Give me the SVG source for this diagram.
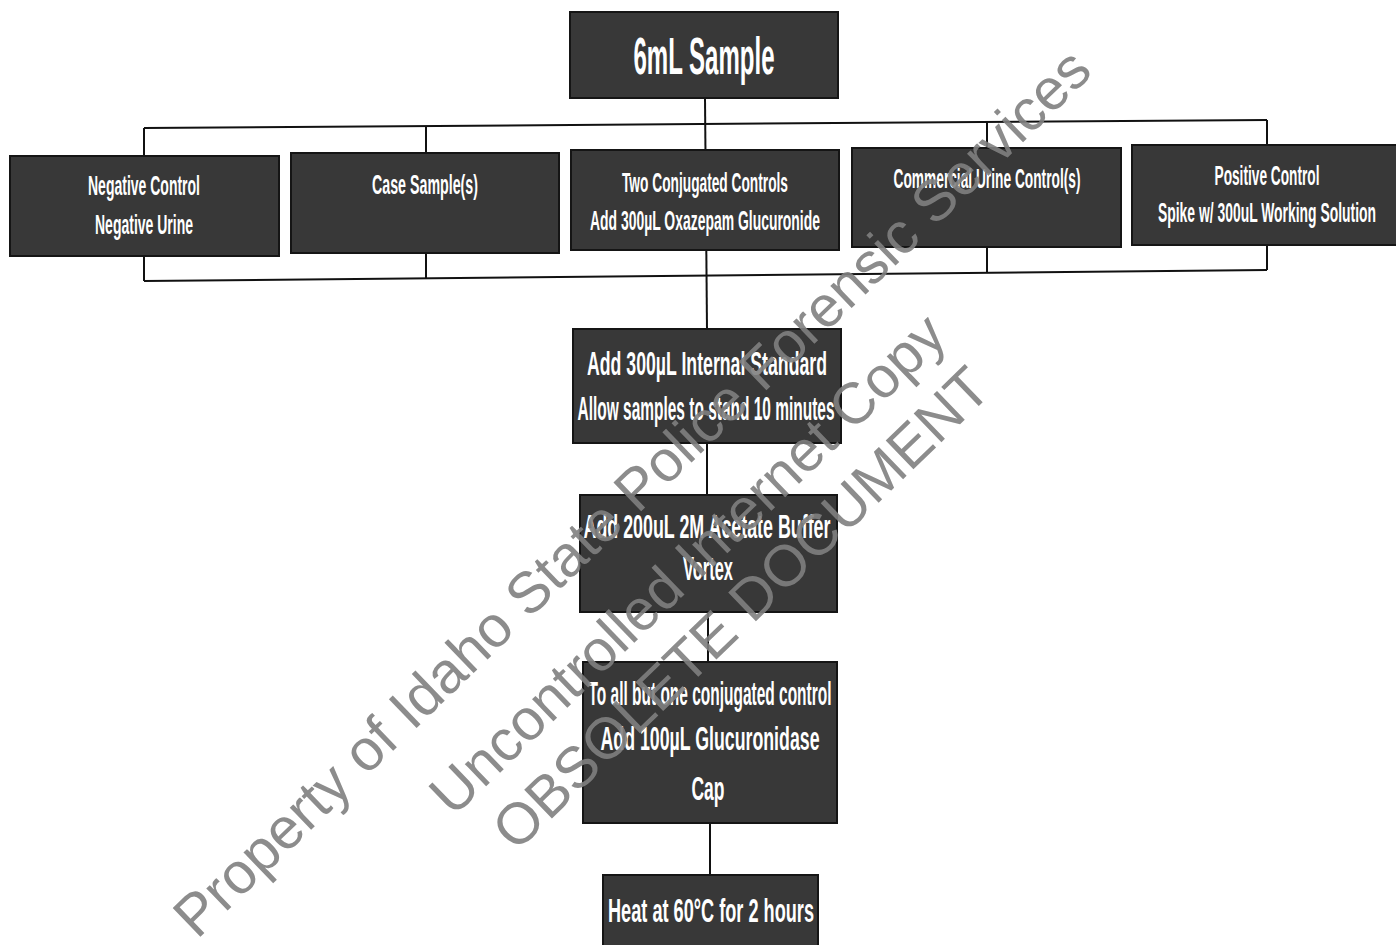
<svg xmlns="http://www.w3.org/2000/svg" width="1396" height="945" viewBox="0 0 1396 945">
<style>
.box{fill:#383838;stroke:#151515;stroke-width:2}
.t{font-family:"Liberation Sans",Arial,sans-serif;font-weight:bold;fill:#ffffff;text-anchor:middle}
.s{font-size:27px}
.m{font-size:33px}
.c{stroke:#111;stroke-width:2;fill:none}
.wm{font-family:"Liberation Sans",Arial,sans-serif;font-size:58px;fill:#808080;opacity:0.9}
</style>
<rect width="1396" height="945" fill="#ffffff"/>
<g id="connectors">
<line class="c" x1="705" y1="98" x2="707" y2="329"/>
<line class="c" x1="144" y1="128" x2="1267" y2="120"/>
<line class="c" x1="144" y1="281" x2="1267" y2="270"/>
<line class="c" x1="144" y1="128" x2="144" y2="155"/>
<line class="c" x1="144" y1="256" x2="144" y2="281"/>
<line class="c" x1="426" y1="126" x2="426" y2="153"/>
<line class="c" x1="426" y1="253" x2="426" y2="279"/>
<line class="c" x1="987" y1="122" x2="987" y2="148"/>
<line class="c" x1="987" y1="247" x2="987" y2="273"/>
<line class="c" x1="1267" y1="120" x2="1267" y2="145"/>
<line class="c" x1="1267" y1="245" x2="1267" y2="270"/>
<line class="c" x1="707" y1="443" x2="707" y2="495"/>
<line class="c" x1="708" y1="612" x2="708" y2="662"/>
<line class="c" x1="710" y1="823" x2="710" y2="875"/>
</g>
<g id="n-sample">
<rect class="box" x="570" y="12" width="268" height="86"/>
<text class="t" x="704" y="74" font-size="52" textLength="141" lengthAdjust="spacingAndGlyphs">6mL Sample</text>
</g>
<g id="n-negative">
<rect class="box" x="10" y="156" width="269" height="100"/>
<text class="t s" x="144" y="195" textLength="112" lengthAdjust="spacingAndGlyphs">Negative Control</text>
<text class="t s" x="144" y="234" textLength="98" lengthAdjust="spacingAndGlyphs">Negative Urine</text>
</g>
<g id="n-case">
<rect class="box" x="291" y="153" width="268" height="100"/>
<text class="t s" x="425" y="194" textLength="106" lengthAdjust="spacingAndGlyphs">Case Sample(s)</text>
</g>
<g id="n-conjugated">
<rect class="box" x="571" y="150" width="268" height="100"/>
<text class="t s" x="705" y="192" textLength="166" lengthAdjust="spacingAndGlyphs">Two Conjugated Controls</text>
<text class="t s" x="705" y="230" textLength="230" lengthAdjust="spacingAndGlyphs">Add 300µL Oxazepam Glucuronide</text>
</g>
<g id="n-commercial">
<rect class="box" x="852" y="148" width="269" height="99"/>
<text class="t s" x="987" y="188" textLength="187" lengthAdjust="spacingAndGlyphs">Commercial Urine Control(s)</text>
</g>
<g id="n-positive">
<rect class="box" x="1132" y="145" width="266" height="100"/>
<text class="t s" x="1267" y="185" textLength="105" lengthAdjust="spacingAndGlyphs">Positive Control</text>
<text class="t s" x="1267" y="222" textLength="218" lengthAdjust="spacingAndGlyphs">Spike w/ 300uL Working Solution</text>
</g>
<g id="n-internal">
<rect class="box" x="573" y="329" width="268" height="114"/>
<text class="t m" x="707" y="375" textLength="240" lengthAdjust="spacingAndGlyphs">Add 300µL Internal Standard</text>
<text class="t m" x="706" y="420" textLength="257" lengthAdjust="spacingAndGlyphs">Allow samples to stand 10 minutes</text>
</g>
<g id="n-buffer">
<rect class="box" x="580" y="495" width="257" height="117"/>
<text class="t m" x="707" y="538" textLength="247" lengthAdjust="spacingAndGlyphs">Add 200uL 2M Acetate Buffer</text>
<text class="t m" x="708" y="580" textLength="50" lengthAdjust="spacingAndGlyphs">Vortex</text>
</g>
<g id="n-glucuronidase">
<rect class="box" x="583" y="662" width="254" height="161"/>
<text class="t m" x="710" y="705" textLength="243" lengthAdjust="spacingAndGlyphs">To all but one conjugated control</text>
<text class="t m" x="710" y="750" textLength="219" lengthAdjust="spacingAndGlyphs">Add 100µL Glucuronidase</text>
<text class="t m" x="708" y="800" textLength="33" lengthAdjust="spacingAndGlyphs">Cap</text>
</g>
<g id="n-heat">
<rect class="box" x="603" y="875" width="215" height="80"/>
<text class="t m" x="711" y="922" textLength="206" lengthAdjust="spacingAndGlyphs">Heat at 60°C for 2 hours</text>
</g>
<g id="watermark">
<text class="wm" transform="translate(197,940) rotate(-44)">Property of Idaho State Police Forensic Services</text>
<text class="wm" transform="translate(453,818) rotate(-44)">Uncontrolled Internet Copy</text>
<text class="wm" transform="translate(516,853) rotate(-44)">OBSOLETE DOCUMENT</text>
</g>
</svg>
